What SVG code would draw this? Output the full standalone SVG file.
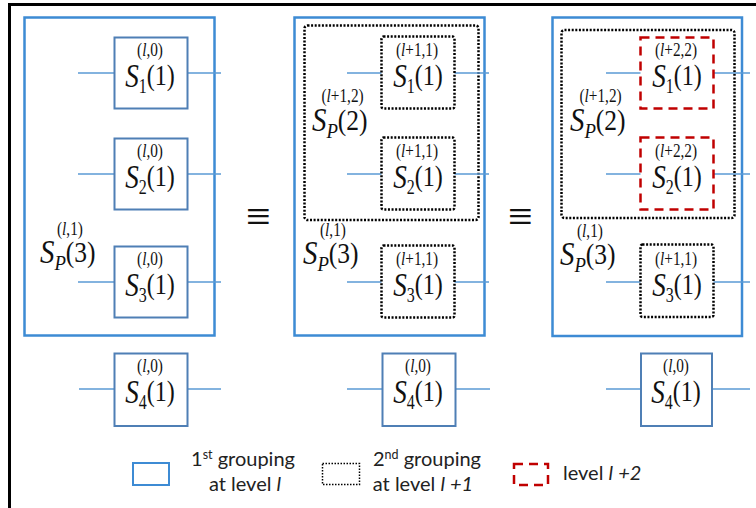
<svg xmlns="http://www.w3.org/2000/svg" width="756" height="508" viewBox="0 0 756 508">
  <style>
    .panel { fill: none; stroke: #3d8bd4; stroke-width: 2.5; }
    .node { fill: #fff; stroke: #4f7fb5; stroke-width: 2; }
    .dot { fill: none; stroke: #000; stroke-width: 2.5; stroke-dasharray: 2 1.6; }
    .red { fill: none; stroke: #c00000; stroke-width: 2.5; stroke-dasharray: 9 6; }
    .wire { stroke: #5b9bd5; stroke-width: 1.5; fill: none; }
    .m { font-family: "Liberation Serif", "Times New Roman", serif; font-size: 30px; fill: #111; }
    .S { font-size: 34px; font-style: italic; }
    .sb { font-size: 20px; }
    .sp { font-size: 18px; }
    .i { font-style: italic; }
    .P { font-size: 22px; font-style: italic; }
    .eq { font-family: "Liberation Serif", serif; font-size: 44px; fill: #111; }
    .lg { font-family: Lato, "Open Sans", sans-serif; font-size: 20px; fill: #222; }
    .lgs { font-size: 12.5px; }
  </style>

  <!-- outer frame (top and left edges) -->
  <path d="M9.5 508 V4.5 H756" fill="none" stroke="#000" stroke-width="3"/>

  <!-- first-level groupings with their S_P labels -->
  <g id="panel-1">
    <rect class="panel" x="24.5" y="17.5" width="190" height="318"/>
    <text class="m sp" transform="translate(57 235) scale(0.85 1)">(<tspan class="i">l</tspan>,1)</text>
    <text class="m" transform="translate(40 263) scale(0.85 1)"><tspan class="S">S</tspan><tspan class="P" dy="7">P</tspan><tspan dy="-8">(3)</tspan></text>
  </g>
  <g id="panel-2">
    <rect class="panel" x="294.5" y="17.5" width="190" height="318"/>
    <rect class="dot" x="304.5" y="25.5" width="174" height="194.5" rx="3"/>
    <text class="m sp" transform="translate(321.5 102) scale(0.85 1)">(<tspan class="i">l</tspan>+1,2)</text>
    <text class="m" transform="translate(312 131) scale(0.85 1)"><tspan class="S">S</tspan><tspan class="P" dy="7">P</tspan><tspan dy="-8">(2)</tspan></text>
    <text class="m sp" transform="translate(320 236) scale(0.85 1)">(<tspan class="i">l</tspan>,1)</text>
    <text class="m" transform="translate(303 264) scale(0.85 1)"><tspan class="S">S</tspan><tspan class="P" dy="7">P</tspan><tspan dy="-8">(3)</tspan></text>
  </g>
  <g id="panel-3">
    <rect class="panel" x="552.5" y="17.5" width="189.5" height="318.5"/>
    <rect class="dot" x="561.5" y="30" width="173" height="188" rx="3"/>
    <text class="m sp" transform="translate(579.5 102) scale(0.85 1)">(<tspan class="i">l</tspan>+1,2)</text>
    <text class="m" transform="translate(570 131) scale(0.85 1)"><tspan class="S">S</tspan><tspan class="P" dy="7">P</tspan><tspan dy="-8">(2)</tspan></text>
    <text class="m sp" transform="translate(577 237) scale(0.85 1)">(<tspan class="i">l</tspan>,1)</text>
    <text class="m" transform="translate(560 265) scale(0.85 1)"><tspan class="S">S</tspan><tspan class="P" dy="7">P</tspan><tspan dy="-8">(3)</tspan></text>
  </g>

  <!-- connectors -->
  <g id="connectors">
    <path class="wire" d="M78 73 H114.5 M187.5 73 H221 M78 174 H114.5 M187.5 174 H221 M78 282 H114.5 M187.5 282 H221 M79 389 H114.5 M187.5 389 H221"/>
    <path class="wire" d="M347 73 H381.5 M454.5 73 H489 M347 174 H381.5 M454.5 174 H489 M347 282 H381.5 M454.5 282 H489 M347 389 H382.5 M455.5 389 H490"/>
    <path class="wire" d="M606 73 H640.5 M713.5 73 H750 M606 174 H640.5 M713.5 174 H750 M606 282 H640.5 M713.5 282 H750 M606 389 H641 M712 389 H750"/>
  </g>

  <!-- column 1 nodes -->
  <g id="c1-s1">
    <rect class="node" x="114.5" y="37.5" width="73" height="71"/>
    <text class="m sp" text-anchor="middle" transform="translate(150 56) scale(0.85 1)">(<tspan class="i">l</tspan>,0)</text>
    <text class="m" text-anchor="middle" transform="translate(150 87) scale(0.8 1)"><tspan class="S">S</tspan><tspan class="sb" dy="6">1</tspan><tspan dy="-8">(1)</tspan></text>
  </g>
  <g id="c1-s2">
    <rect class="node" x="114.5" y="138.5" width="73" height="71"/>
    <text class="m sp" text-anchor="middle" transform="translate(150 157) scale(0.85 1)">(<tspan class="i">l</tspan>,0)</text>
    <text class="m" text-anchor="middle" transform="translate(150 188) scale(0.8 1)"><tspan class="S">S</tspan><tspan class="sb" dy="6">2</tspan><tspan dy="-8">(1)</tspan></text>
  </g>
  <g id="c1-s3">
    <rect class="node" x="114.5" y="246.5" width="73" height="71"/>
    <text class="m sp" text-anchor="middle" transform="translate(150 265) scale(0.85 1)">(<tspan class="i">l</tspan>,0)</text>
    <text class="m" text-anchor="middle" transform="translate(150 296) scale(0.8 1)"><tspan class="S">S</tspan><tspan class="sb" dy="6">3</tspan><tspan dy="-8">(1)</tspan></text>
  </g>
  <g id="c1-s4">
    <rect class="node" x="114.5" y="353.5" width="73" height="72.5"/>
    <text class="m sp" text-anchor="middle" transform="translate(150 372) scale(0.85 1)">(<tspan class="i">l</tspan>,0)</text>
    <text class="m" text-anchor="middle" transform="translate(150 403) scale(0.8 1)"><tspan class="S">S</tspan><tspan class="sb" dy="6">4</tspan><tspan dy="-8">(1)</tspan></text>
  </g>

  <!-- column 2 nodes -->
  <g id="c2-s1">
    <rect class="dot" x="381.5" y="36.5" width="73" height="72" rx="2"/>
    <text class="m sp" text-anchor="middle" transform="translate(417 56) scale(0.85 1)">(<tspan class="i">l</tspan>+1,1)</text>
    <text class="m" text-anchor="middle" transform="translate(418 87) scale(0.8 1)"><tspan class="S">S</tspan><tspan class="sb" dy="6">1</tspan><tspan dy="-8">(1)</tspan></text>
  </g>
  <g id="c2-s2">
    <rect class="dot" x="381.5" y="137.5" width="73" height="72" rx="2"/>
    <text class="m sp" text-anchor="middle" transform="translate(417 157) scale(0.85 1)">(<tspan class="i">l</tspan>+1,1)</text>
    <text class="m" text-anchor="middle" transform="translate(418 188) scale(0.8 1)"><tspan class="S">S</tspan><tspan class="sb" dy="6">2</tspan><tspan dy="-8">(1)</tspan></text>
  </g>
  <g id="c2-s3">
    <rect class="dot" x="381.5" y="245.5" width="73" height="72" rx="2"/>
    <text class="m sp" text-anchor="middle" transform="translate(417 265) scale(0.85 1)">(<tspan class="i">l</tspan>+1,1)</text>
    <text class="m" text-anchor="middle" transform="translate(418 296) scale(0.8 1)"><tspan class="S">S</tspan><tspan class="sb" dy="6">3</tspan><tspan dy="-8">(1)</tspan></text>
  </g>
  <g id="c2-s4">
    <rect class="node" x="382.5" y="353.5" width="73" height="72.5"/>
    <text class="m sp" text-anchor="middle" transform="translate(418 372) scale(0.85 1)">(<tspan class="i">l</tspan>,0)</text>
    <text class="m" text-anchor="middle" transform="translate(418 403) scale(0.8 1)"><tspan class="S">S</tspan><tspan class="sb" dy="6">4</tspan><tspan dy="-8">(1)</tspan></text>
  </g>

  <!-- column 3 nodes -->
  <g id="c3-s1">
    <rect class="red" x="640.5" y="37.5" width="73" height="71"/>
    <text class="m sp" text-anchor="middle" transform="translate(676 56) scale(0.85 1)">(<tspan class="i">l</tspan>+2,2)</text>
    <text class="m" text-anchor="middle" transform="translate(677 87) scale(0.8 1)"><tspan class="S">S</tspan><tspan class="sb" dy="6">1</tspan><tspan dy="-8">(1)</tspan></text>
  </g>
  <g id="c3-s2">
    <rect class="red" x="640.5" y="137.5" width="73" height="72"/>
    <text class="m sp" text-anchor="middle" transform="translate(676 157) scale(0.85 1)">(<tspan class="i">l</tspan>+2,2)</text>
    <text class="m" text-anchor="middle" transform="translate(677 188) scale(0.8 1)"><tspan class="S">S</tspan><tspan class="sb" dy="6">2</tspan><tspan dy="-8">(1)</tspan></text>
  </g>
  <g id="c3-s3">
    <rect class="dot" x="640.5" y="244.5" width="73" height="72.5" rx="2"/>
    <text class="m sp" text-anchor="middle" transform="translate(676 265) scale(0.85 1)">(<tspan class="i">l</tspan>+1,1)</text>
    <text class="m" text-anchor="middle" transform="translate(677 296) scale(0.8 1)"><tspan class="S">S</tspan><tspan class="sb" dy="6">3</tspan><tspan dy="-8">(1)</tspan></text>
  </g>
  <g id="c3-s4">
    <rect class="node" x="641" y="353.5" width="71" height="72.5"/>
    <text class="m sp" text-anchor="middle" transform="translate(676 372) scale(0.85 1)">(<tspan class="i">l</tspan>,0)</text>
    <text class="m" text-anchor="middle" transform="translate(676 403) scale(0.8 1)"><tspan class="S">S</tspan><tspan class="sb" dy="6">4</tspan><tspan dy="-8">(1)</tspan></text>
  </g>

  <!-- equivalence signs between columns -->
  <text class="eq" text-anchor="middle" x="258.5" y="231">≡</text>
  <text class="eq" text-anchor="middle" x="520.5" y="231">≡</text>

  <!-- legend -->
  <g id="legend">
    <rect x="133" y="463" width="36" height="22" fill="none" stroke="#3d8bd4" stroke-width="2"/>
    <text class="lg" text-anchor="middle" x="243" y="466">1<tspan class="lgs" dy="-7">st</tspan><tspan dy="7"> grouping</tspan></text>
    <text class="lg" text-anchor="middle" x="245" y="491">at level <tspan class="i">l</tspan></text>
    <rect x="322.5" y="463.5" width="37" height="21" fill="none" stroke="#000" stroke-width="1.5" stroke-dasharray="1.5 1.5"/>
    <text class="lg" text-anchor="middle" x="427" y="466">2<tspan class="lgs" dy="-7">nd</tspan><tspan dy="7"> grouping</tspan></text>
    <text class="lg" text-anchor="middle" x="423" y="491">at level <tspan class="i">l</tspan> <tspan class="i">+1</tspan></text>
    <rect x="514" y="464" width="34" height="21" fill="none" stroke="#c00000" stroke-width="2.5" stroke-dasharray="9 6"/>
    <text class="lg" x="563" y="480">level <tspan class="i">l</tspan> <tspan class="i">+2</tspan></text>
  </g>
</svg>
